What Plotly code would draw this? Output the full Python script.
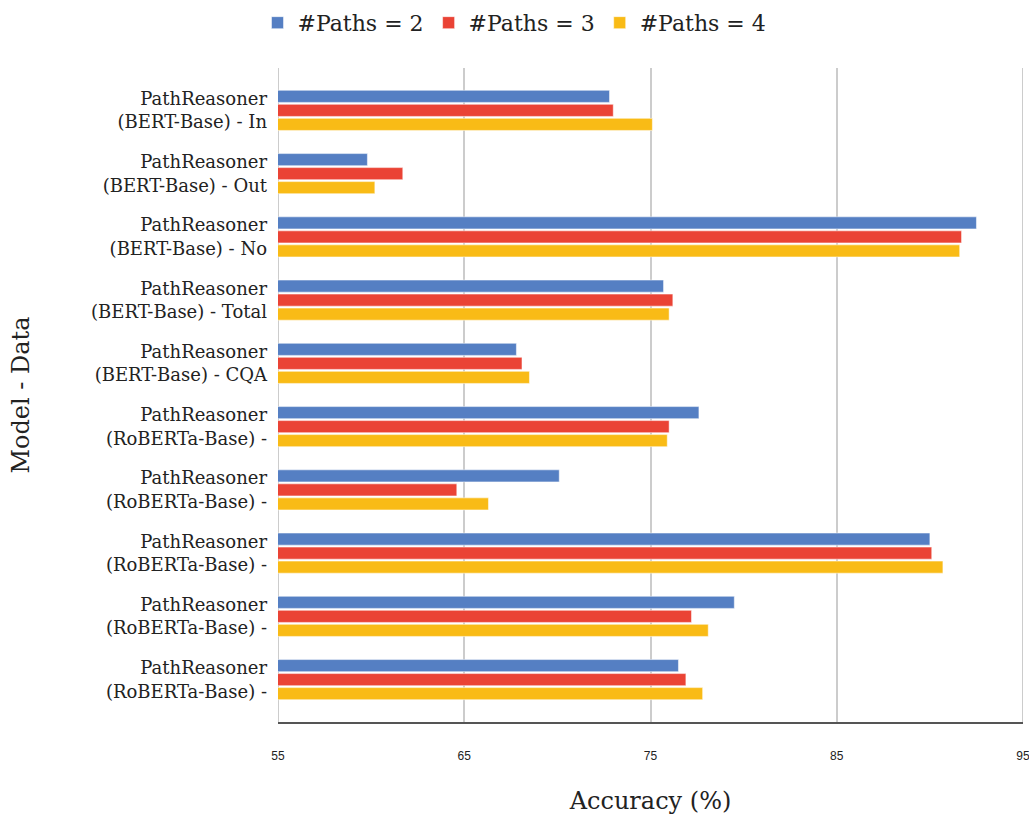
import plotly.graph_objects as go

categories = [
    "PathReasoner<br>(BERT-Base) - In",
    "PathReasoner<br>(BERT-Base) - Out",
    "PathReasoner<br>(BERT-Base) - No",
    "PathReasoner<br>(BERT-Base) - Total",
    "PathReasoner<br>(BERT-Base) - CQA",
    "PathReasoner<br>(RoBERTa-Base) -",
    "PathReasoner<br>(RoBERTa-Base) -",
    "PathReasoner<br>(RoBERTa-Base) -",
    "PathReasoner<br>(RoBERTa-Base) -",
    "PathReasoner<br>(RoBERTa-Base) -",
]
paths_2 = [72.8, 59.8, 92.5, 75.7, 67.8, 77.6, 70.1, 90.0, 79.5, 76.5]
paths_3 = [73.0, 61.7, 91.7, 76.2, 68.1, 76.0, 64.6, 90.1, 77.2, 76.9]
paths_4 = [75.1, 60.2, 91.6, 76.0, 68.5, 75.9, 66.3, 90.7, 78.1, 77.8]

series_names = ["#Paths = 2", "#Paths = 3", "#Paths = 4"]
colors = ["#557fc3", "#ea4335", "#f9bb16"]

x_ticks = [55, 65, 75, 85, 95]

serif = "DejaVu Serif"
positions = list(range(len(categories)))

fig = go.Figure()
for name, vals, col in zip(series_names, [paths_2, paths_3, paths_4], colors):
    fig.add_trace(go.Bar(
        y=positions, x=vals, name=name, orientation="h",
        marker=dict(color=col, line=dict(color="white", width=0.5)),
    ))

fig.update_layout(
    width=1029, height=816,
    margin=dict(l=278, r=6, t=68, b=94, autoexpand=False),
    paper_bgcolor="white", plot_bgcolor="white",
    barmode="group", bargap=0.335, bargroupgap=0.14,
    font=dict(family=serif, color="#222222"),
    legend=dict(
        orientation="h", xref="container", yref="container",
        x=0.5, xanchor="center", y=0.972, yanchor="middle",
        font=dict(family=serif, size=22, color="#222222"),
        itemwidth=30, traceorder="normal",
    ),
    xaxis=dict(
        range=[55, 95], tickvals=x_ticks, ticktext=[str(v) for v in x_ticks],
        showgrid=True, gridcolor="#cccccc", gridwidth=2,
        zeroline=False, showline=True, linecolor="#555555", linewidth=1.5,
        tickfont=dict(family="Liberation Sans", size=12, color="#222222"),
        ticks="", ticklabelstandoff=22, ticklabeloverflow="allow",
        automargin=False,
        title=dict(text="Accuracy (%)", font=dict(family=serif, size=24, color="#222222"),
                   standoff=30),
    ),
    yaxis=dict(
        tickmode="array", tickvals=positions, ticktext=categories,
        range=[9.67, -0.67],
        showgrid=False, zeroline=False, showline=False, ticks="",
        tickfont=dict(family=serif, size=18, color="#222222"),
        ticklabelstandoff=10, automargin=False,
        title=dict(text="Model - Data", font=dict(family=serif, size=24, color="#222222"),
                   standoff=54),
    ),
)
# gridlines at both ends of the value range
for edge in (x_ticks[0], x_ticks[-1]):
    fig.add_shape(type="line", xref="x", yref="paper", x0=edge, x1=edge, y0=0, y1=1,
                  line=dict(color="#cccccc", width=2), layer="below")

fig.write_html("out.html")
